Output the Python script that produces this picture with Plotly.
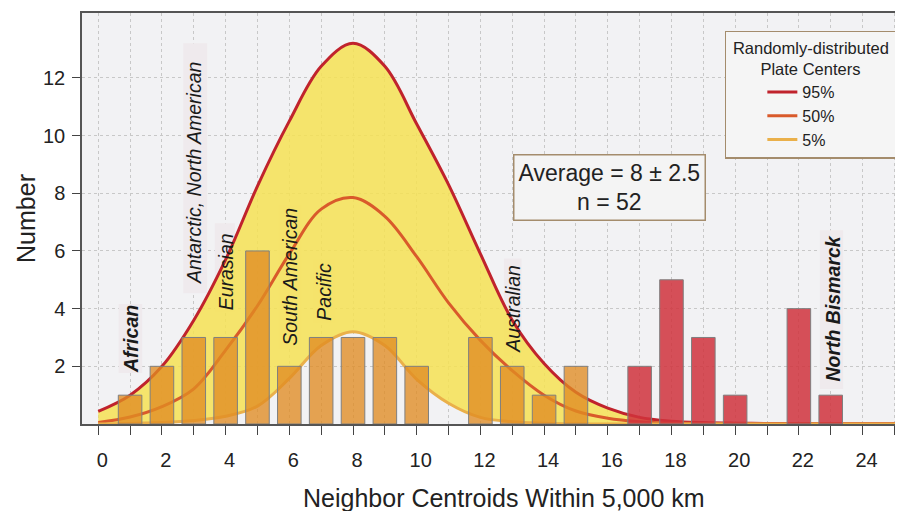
import plotly.graph_objects as go

# ---- data ----
bar_x_orange = [1, 2, 3, 4, 5, 6, 7, 8, 9, 10, 11, 12, 13, 14, 15]
bar_y_orange = [1, 2, 3, 3, 6, 2, 3, 3, 3, 2, 0, 3, 2, 1, 2]
bar_x_red = [17, 18, 19, 20, 21, 22, 23]
bar_y_red = [2, 5, 3, 1, 0, 4, 1]

curve_x = [0, 1, 2, 3, 4, 5, 6, 7, 8, 9, 10, 11, 12, 13, 14, 15, 16, 17, 18,
           19, 20, 21, 22, 23, 24, 25, 26]
p95 = [0.44, 1.0, 2.0, 3.6, 5.7, 8.25, 10.5, 12.4, 13.2, 12.4, 10.4, 8.3, 5.9,
       3.6, 2.1, 1.1, 0.55, 0.23, 0.1, 0.05, 0.03, 0.02, 0.015, 0.01, 0.01, 0.01, 0.01]
p50 = [0.05, 0.24, 0.6, 1.22, 2.56, 4.1, 5.9, 7.45, 7.85, 7.2, 5.8, 4.2, 2.9,
       1.85, 1.0, 0.45, 0.2, 0.08, 0.03, 0.02, 0.01, 0.01, 0.01, 0.01, 0.01, 0.01, 0.01]
p5 = [0.0, 0.02, 0.05, 0.12, 0.27, 0.62, 1.58, 2.72, 3.2, 2.72, 1.55, 0.72, 0.23,
      0.08, 0.03, 0.01, 0.0, 0.0, 0.0, 0.0, 0.0, 0.0, 0.0, 0.0, 0.0, 0.0, 0.0]

plate_labels = ["African", "Antarctic, North American", "Eurasian", "South American",
                "Pacific", "Australian", "North Bismarck"]
plate_label_x = [1.01, 3.03, 4.0, 6.02, 7.09, 13.02, 23.06]
plate_label_y = [2.96, 8.69, 5.28, 5.1, 4.59, 3.99, 3.99]
plate_label_bold = [True, False, False, False, False, False, True]

x_ticks = list(range(0, 26))
y_ticks = [2, 4, 6, 8, 10, 12]

# ---- layout helpers (label background boxes: x0, x1, y0, y1) ----
label_boxes = [(0.64, 1.38, 1.77, 4.16), (2.67, 3.42, 4.53, 13.2), (3.66, 4.29, 3.89, 6.96),
               (5.66, 6.38, 2.6, 7.6), (6.75, 7.45, 3.5, 5.7), (12.74, 13.29, 2.36, 5.74),
               (22.66, 23.39, 1.21, 6.72)]

FONT = "Liberation Sans, Arial, Helvetica, sans-serif"
C95, C50, C5 = "#c0232c", "#d95a2b", "#eab04a"
XR = [-0.51, 25.27]
YR = [0, 14.25]
NB = "&nbsp;"

fig = go.Figure()

# yellow band between 5% and 95%
fig.add_trace(go.Scatter(x=curve_x, y=p5, mode="lines", line=dict(width=0, shape="spline"),
                         showlegend=False, hoverinfo="skip"))
fig.add_trace(go.Scatter(x=curve_x, y=p95, mode="lines", line=dict(width=0, shape="spline"),
                         fill="tonexty", fillcolor="rgba(246,226,84,0.85)",
                         showlegend=False, hoverinfo="skip"))

# curves
for name, ys, col in [("95%", p95, C95), ("50%", p50, C50), ("5%", p5, C5)]:
    fig.add_trace(go.Scatter(x=curve_x, y=ys, mode="lines", name=name,
                             line=dict(color=col, width=3, shape="spline")))

# bars (on an overlaid subplot so they sit above the curves)
fig.add_trace(go.Bar(x=bar_x_orange, y=bar_y_orange, width=0.74, xaxis="x2", yaxis="y2",
                     marker=dict(color="rgba(224,140,35,0.78)",
                                 line=dict(color="#7f7f7f",
                                           width=[1 if v else 0 for v in bar_y_orange])),
                     showlegend=False))
fig.add_trace(go.Bar(x=bar_x_red, y=bar_y_red, width=0.74, xaxis="x2", yaxis="y2",
                     marker=dict(color="rgba(208,50,60,0.85)",
                                 line=dict(color="#7f7f7f",
                                           width=[1 if v else 0 for v in bar_y_red])),
                     showlegend=False))

# label background boxes
for (x0, x1, y0, y1) in label_boxes:
    fig.add_shape(type="rect", xref="x", yref="y", x0=x0, x1=x1, y0=y0, y1=y1,
                  fillcolor="#efeaed", line=dict(width=0), layer="between")

# plate labels
for t, x, y, b in zip(plate_labels, plate_label_x, plate_label_y, plate_label_bold):
    fig.add_annotation(x=x, y=y, text=t, textangle=-90, showarrow=False,
                       xanchor="center", yanchor="middle",
                       font=dict(family=FONT, size=19.5, color="#1a1a1a", style="italic",
                                 weight="bold" if b else "normal"))

# average box
fig.add_annotation(x=16.05, y=8.21, text="Average = 8 ± 2.5<br>n = 52", showarrow=False,
                   xanchor="center", yanchor="middle", align="center",
                   bgcolor="#f4f4f4", bordercolor="#a48c6c", borderwidth=1.5, borderpad=4,
                   font=dict(family=FONT, size=23, color="#222222"))

# x-axis title
fig.add_annotation(xref="paper", yref="paper", x=0.514, y=-0.18, xanchor="center",
                   yanchor="middle", showarrow=False,
                   text="Neighbor Centroids Within 5,000 km",
                   font=dict(family=FONT, size=25, color="#222222"))

fig.update_layout(
    width=895, height=503,
    margin=dict(l=74, r=0, t=5, b=87),
    paper_bgcolor="white", plot_bgcolor="#f2f2f4",
    font=dict(family=FONT, color="#222222"),
    barmode="overlay",
    showlegend=True,
    legend=dict(
        x=0.783, y=0.957, xanchor="left", yanchor="top", traceorder="normal",
        bgcolor="#f5f5f5", bordercolor="#a48c6c", borderwidth=1.5,
        title=dict(text=NB + "Randomly-distributed" + NB + "<br>" + NB * 7 + "Plate Centers",
                   side="top", font=dict(family=FONT, size=16.5, color="#222222")),
        font=dict(family=FONT, size=16, color="#222222"),
        indentation=36, tracegroupgap=0,
    ),
    xaxis=dict(
        range=XR, tickvals=x_ticks,
        ticktext=[str(v) if v % 2 == 0 else "" for v in x_ticks],
        ticks="outside", ticklen=9, tickcolor="#444444", tickwidth=1,
        showline=True, linecolor="#555555", linewidth=1.5, mirror=True,
        showgrid=True, gridcolor="#c8c8c8", griddash="3px,3px", gridwidth=1,
        zeroline=False, tickfont=dict(size=20), ticklabelstandoff=8, ticklabelshift=4,
    ),
    yaxis=dict(
        range=YR, tickvals=y_ticks,
        ticks="outside", ticklen=8, tickcolor="#444444", tickwidth=1,
        showline=True, linecolor="#555555", linewidth=1.5,
        showgrid=True, gridcolor="#c8c8c8", griddash="3px,3px", gridwidth=1,
        zeroline=False, tickfont=dict(size=20), ticklabelstandoff=3,
        title=dict(text="Number", font=dict(size=25), standoff=0),
    ),
    xaxis2=dict(overlaying="x", range=XR, visible=False, anchor="y2"),
    yaxis2=dict(overlaying="y", range=YR, visible=False, anchor="x2"),
)

fig.write_html("out.html")
